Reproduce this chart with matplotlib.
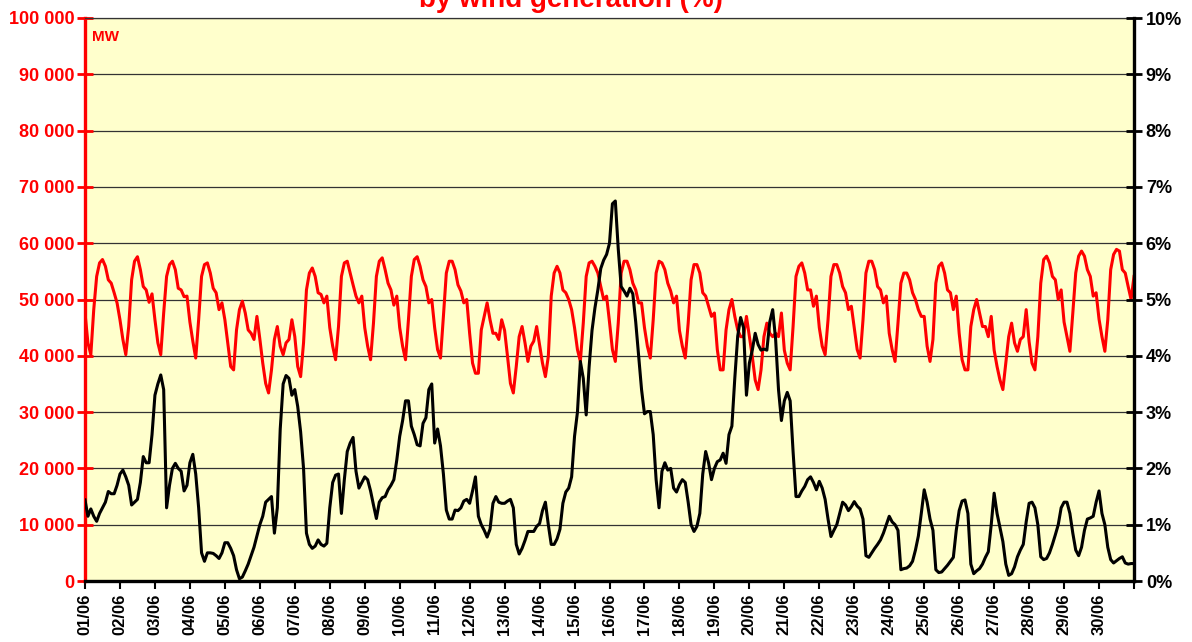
import matplotlib
matplotlib.use("Agg")
import matplotlib.pyplot as plt
from matplotlib.ticker import FuncFormatter
import numpy as np

plt.rcParams['font.family'] = ['Liberation Sans', 'DejaVu Sans']
plt.rcParams['font.weight'] = 'bold'

# x axis: one tick per day of June, samples every 2 hours
day_labels = [f"{d:02d}/06" for d in range(1, 31)]
sample_hours = [0, 2, 4, 6, 8, 10, 12, 14, 16, 18, 20, 22]

# consumption, thousands of MW (left axis), one row per day
load_k = [
    [47.6, 42.3, 40.2, 48.2, 54.1, 56.5, 57.1, 55.9, 53.5, 52.9, 51.2, 49.4],
    [46.4, 42.9, 40.2, 45.2, 53.5, 56.8, 57.6, 55.3, 52.3, 51.7, 49.5, 51.0],
    [46.4, 42.3, 40.2, 47.6, 54.1, 56.2, 56.8, 55.3, 52.0, 51.7, 50.5, 50.6],
    [46.0, 42.6, 39.6, 46.4, 54.1, 56.2, 56.5, 54.7, 52.0, 51.2, 48.2, 49.4],
    [46.4, 42.3, 38.1, 37.5, 44.6, 48.2, 49.7, 47.6, 44.6, 44.0, 42.9, 47.0],
    [43.0, 38.7, 35.1, 33.4, 37.5, 42.9, 45.2, 41.7, 40.2, 42.3, 42.9, 46.4],
    [43.4, 38.1, 36.3, 42.3, 51.7, 54.7, 55.6, 54.1, 51.2, 50.9, 49.4, 50.6],
    [45.0, 41.7, 39.3, 45.2, 54.1, 56.5, 56.8, 54.7, 52.6, 50.6, 49.4, 50.6],
    [45.0, 41.7, 39.3, 45.8, 54.1, 56.8, 57.4, 55.3, 52.9, 51.7, 49.0, 50.6],
    [45.0, 41.7, 39.3, 46.4, 54.1, 57.1, 57.6, 55.9, 53.5, 52.3, 49.4, 50.0],
    [45.0, 41.1, 39.6, 47.0, 54.7, 56.8, 56.8, 55.3, 52.6, 51.5, 49.4, 50.0],
    [44.0, 38.7, 36.9, 36.9, 44.6, 47.0, 49.4, 46.4, 44.0, 44.0, 42.9, 46.4],
    [44.5, 39.9, 35.1, 33.4, 38.1, 43.4, 45.2, 42.3, 39.0, 41.7, 42.6, 45.2],
    [42.0, 38.7, 36.3, 39.9, 50.6, 54.7, 55.9, 54.7, 51.7, 51.2, 50.0, 48.2],
    [45.0, 41.1, 39.0, 45.8, 54.1, 56.5, 56.8, 55.9, 54.7, 52.3, 50.0, 50.6],
    [46.0, 41.1, 39.0, 45.8, 54.7, 56.8, 56.8, 55.3, 52.9, 51.7, 49.4, 49.4],
    [45.0, 41.7, 39.6, 46.4, 54.7, 56.8, 56.5, 55.3, 52.9, 51.5, 49.4, 50.6],
    [44.5, 41.7, 39.6, 45.8, 53.5, 56.2, 56.2, 54.7, 51.2, 50.6, 48.8, 47.0],
    [47.6, 41.1, 37.5, 37.5, 44.6, 48.2, 50.0, 47.0, 44.6, 43.4, 43.4, 47.0],
    [43.5, 39.9, 35.7, 34.0, 37.5, 43.4, 45.8, 44.0, 43.4, 44.0, 43.4, 47.6],
    [41.0, 38.7, 37.5, 45.2, 54.1, 55.9, 56.5, 54.7, 51.7, 51.7, 48.8, 50.6],
    [45.0, 41.7, 40.2, 46.4, 54.1, 56.2, 56.2, 54.7, 52.3, 51.2, 48.2, 48.8],
    [45.0, 41.1, 39.6, 46.4, 54.7, 56.8, 56.8, 55.3, 52.3, 51.7, 49.4, 50.6],
    [44.0, 41.1, 39.0, 45.8, 52.9, 54.7, 54.7, 53.5, 51.2, 50.0, 48.2, 47.0],
    [47.0, 41.7, 39.0, 42.9, 52.9, 55.9, 56.5, 54.7, 51.7, 51.2, 48.2, 50.6],
    [44.0, 39.3, 37.5, 37.5, 45.2, 48.2, 50.0, 47.6, 45.2, 45.2, 43.4, 47.0],
    [41.0, 38.1, 35.7, 34.0, 38.7, 43.4, 45.8, 42.3, 40.8, 42.9, 43.4, 48.2],
    [42.5, 38.7, 37.5, 43.4, 52.9, 57.1, 57.7, 56.5, 54.1, 53.5, 50.0, 51.7],
    [46.0, 43.4, 40.8, 47.6, 54.7, 57.7, 58.6, 57.7, 55.3, 54.1, 50.6, 51.2],
    [46.5, 43.4, 40.8, 46.4, 55.3, 58.0, 58.9, 58.6, 55.3, 54.7, 52.3, 50.0],
]
load_last = 54.1

# share of consumption covered by wind generation, % (right axis)
wind_pct = [
    [1.44, 1.15, 1.28, 1.15, 1.06, 1.20, 1.30, 1.40, 1.59, 1.55, 1.55, 1.70],
    [1.90, 1.97, 1.85, 1.70, 1.35, 1.40, 1.45, 1.75, 2.21, 2.10, 2.10, 2.60],
    [3.30, 3.50, 3.66, 3.40, 1.30, 1.70, 2.00, 2.09, 2.00, 1.95, 1.60, 1.70],
    [2.10, 2.25, 1.90, 1.30, 0.50, 0.35, 0.50, 0.50, 0.49, 0.45, 0.40, 0.50],
    [0.68, 0.68, 0.58, 0.45, 0.20, 0.04, 0.07, 0.18, 0.30, 0.45, 0.60, 0.80],
    [1.00, 1.15, 1.40, 1.45, 1.50, 0.85, 1.30, 2.70, 3.50, 3.65, 3.60, 3.30],
    [3.40, 3.10, 2.65, 2.00, 0.85, 0.65, 0.58, 0.62, 0.73, 0.65, 0.62, 0.67],
    [1.30, 1.75, 1.88, 1.90, 1.20, 1.80, 2.30, 2.45, 2.55, 1.95, 1.65, 1.75],
    [1.85, 1.80, 1.60, 1.35, 1.11, 1.40, 1.48, 1.50, 1.62, 1.70, 1.80, 2.15],
    [2.57, 2.85, 3.20, 3.20, 2.75, 2.60, 2.42, 2.40, 2.80, 2.90, 3.40, 3.50],
    [2.45, 2.70, 2.40, 1.90, 1.26, 1.10, 1.10, 1.26, 1.25, 1.30, 1.42, 1.45],
    [1.38, 1.60, 1.85, 1.15, 1.00, 0.90, 0.78, 0.92, 1.38, 1.50, 1.40, 1.38],
    [1.38, 1.42, 1.45, 1.30, 0.65, 0.48, 0.58, 0.72, 0.88, 0.88, 0.88, 0.97],
    [1.02, 1.25, 1.40, 1.00, 0.65, 0.65, 0.75, 0.92, 1.38, 1.58, 1.65, 1.85],
    [2.57, 3.00, 3.90, 3.60, 2.95, 3.80, 4.45, 4.85, 5.17, 5.55, 5.70, 5.80],
    [6.00, 6.70, 6.75, 5.90, 5.23, 5.15, 5.06, 5.20, 5.10, 4.60, 4.00, 3.40],
    [2.97, 3.01, 3.01, 2.60, 1.80, 1.30, 1.95, 2.10, 1.97, 2.00, 1.65, 1.58],
    [1.71, 1.80, 1.75, 1.40, 1.00, 0.88, 0.97, 1.20, 1.90, 2.30, 2.10, 1.80],
    [2.00, 2.12, 2.15, 2.27, 2.09, 2.60, 2.75, 3.60, 4.35, 4.68, 4.50, 3.30],
    [3.87, 4.10, 4.40, 4.20, 4.10, 4.12, 4.10, 4.60, 4.82, 4.30, 3.40, 2.85],
    [3.20, 3.35, 3.20, 2.30, 1.50, 1.50, 1.60, 1.68, 1.80, 1.85, 1.75, 1.62],
    [1.77, 1.65, 1.45, 1.10, 0.79, 0.90, 1.00, 1.20, 1.40, 1.35, 1.25, 1.32],
    [1.41, 1.33, 1.28, 1.10, 0.45, 0.42, 0.50, 0.58, 0.65, 0.73, 0.85, 1.00],
    [1.15, 1.05, 1.00, 0.90, 0.20, 0.22, 0.23, 0.27, 0.35, 0.55, 0.80, 1.20],
    [1.62, 1.40, 1.10, 0.90, 0.20, 0.15, 0.16, 0.22, 0.28, 0.35, 0.42, 0.90],
    [1.25, 1.42, 1.44, 1.20, 0.30, 0.13, 0.18, 0.22, 0.30, 0.42, 0.52, 1.00],
    [1.56, 1.20, 0.95, 0.70, 0.30, 0.10, 0.13, 0.25, 0.43, 0.55, 0.65, 1.05],
    [1.38, 1.40, 1.30, 1.00, 0.43, 0.38, 0.40, 0.50, 0.65, 0.82, 1.00, 1.30],
    [1.40, 1.40, 1.20, 0.85, 0.55, 0.45, 0.60, 0.90, 1.10, 1.12, 1.15, 1.40],
    [1.60, 1.20, 1.00, 0.60, 0.38, 0.32, 0.36, 0.40, 0.43, 0.32, 0.30, 0.31],
]
wind_last = 0.31

# time axis in hours since 01/06 00:00
hours = [24 * d + h for d in range(len(load_k)) for h in sample_hours] + [24 * len(load_k)]
load = np.array([v for row in load_k for v in row] + [load_last]) * 1000
wind = np.array([v for row in wind_pct for v in row] + [wind_last])

W, H = 1192, 642
fig = plt.figure(figsize=(W / 100, H / 100), dpi=100)
ax = fig.add_axes([85 / W, 61 / H, 1049 / W, 563 / H])
ax.set_facecolor('#FFFFCC')

ax.plot(hours, load, color='#FF0000', lw=2.2, zorder=3)
ax.set_xlim(0, 720)
ax.set_ylim(0, 100000)
ax.set_yticks(range(0, 100001, 10000))
ax.yaxis.set_major_formatter(FuncFormatter(lambda v, p: f"{int(v):,}".replace(',', ' ')))
ax.grid(axis='y', color='#333333', lw=0.9)
ax.set_axisbelow(True)

ax.set_xticks(range(0, 721, 24))
ax.set_xticklabels(day_labels + [''])
ax.tick_params(axis='x', direction='out', length=6, width=1.5, labelsize=12,
               labelrotation=90, pad=3, colors='black')
ax.tick_params(axis='y', direction='inout', length=11, width=2, colors='#FF0000',
               labelsize=13, pad=2)

ax.spines['left'].set_color('#FF0000')
ax.spines['left'].set_linewidth(2.4)
ax.spines['bottom'].set_color('black')
ax.spines['bottom'].set_linewidth(2.4)
ax.spines['top'].set_color('#333333')
ax.spines['top'].set_linewidth(0.9)
ax.spines['right'].set_visible(False)

ax.text(7 / 1049, 1 - 19 / 563, 'MW', transform=ax.transAxes, color='#FF0000',
        fontsize=11, fontweight='bold', va='center', ha='left')

ax2 = ax.twinx()
ax2.plot(hours, wind, color='black', lw=2.2, zorder=4)
ax2.set_ylim(0, 10)
ax2.set_yticks(range(0, 11))
ax2.yaxis.set_major_formatter(FuncFormatter(lambda v, p: f"{int(v)}%"))
ax2.tick_params(axis='y', direction='inout', length=11, width=2, colors='black',
                labelsize=13, pad=3)
for side in ['left', 'top', 'bottom']:
    ax2.spines[side].set_visible(False)
ax2.spines['right'].set_color('black')
ax2.spines['right'].set_linewidth(2.4)

# the title's upper line falls outside the picture, as in the source chart
fig.text(571 / W, 1 - 7 / H, 'by wind generation (%)', ha='center', va='baseline',
         color='#FF0000', fontsize=20, fontweight='bold')

fig.savefig('out.png', dpi=100)
